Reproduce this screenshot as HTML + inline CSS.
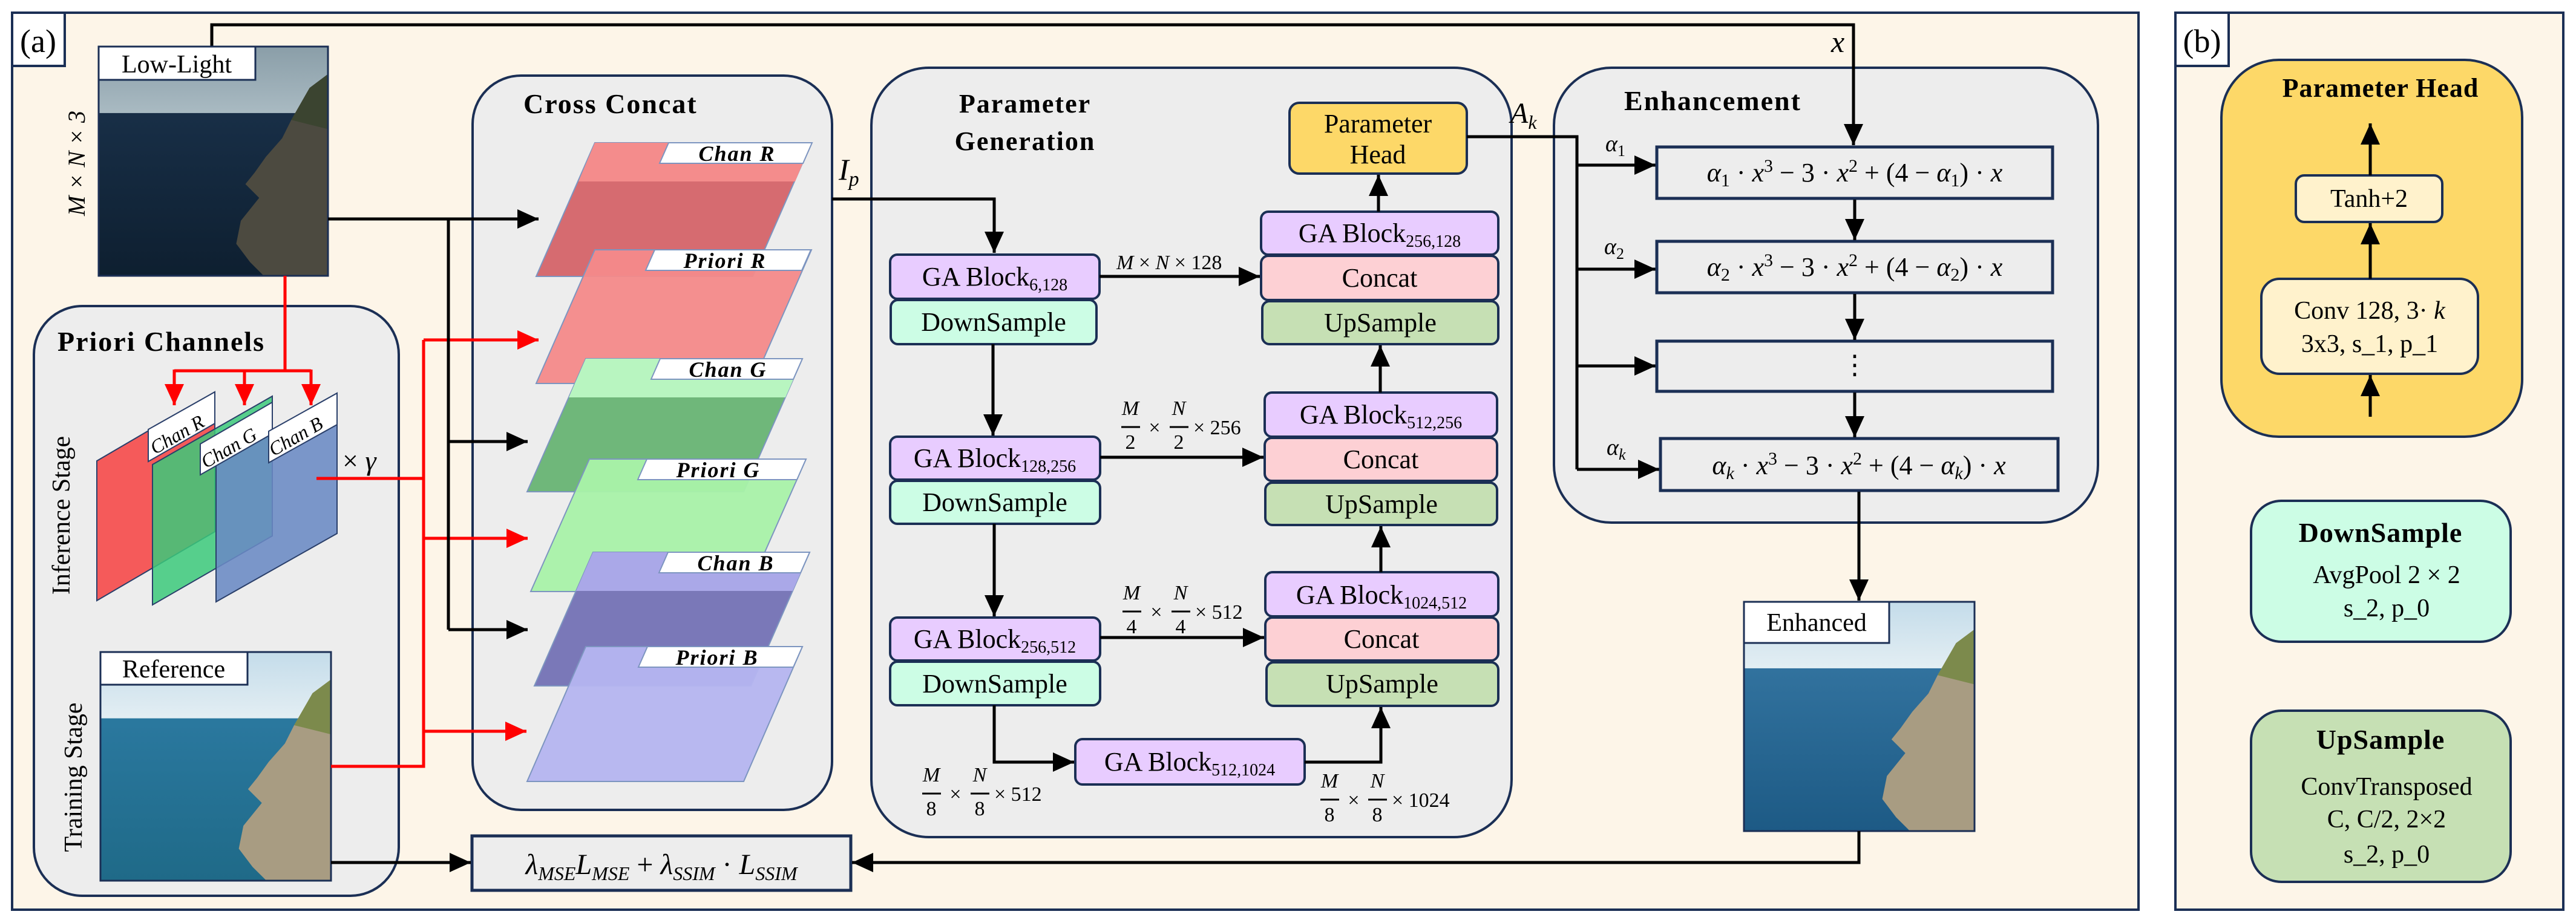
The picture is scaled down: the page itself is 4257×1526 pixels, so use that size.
<!DOCTYPE html>
<html><head><meta charset="utf-8"><style>
html,body{margin:0;padding:0;background:#fff;}
svg{display:block;}
svg text{font-family:"Liberation Serif","DejaVu Serif",serif;}
</style></head><body>
<svg width="4257" height="1526" viewBox="0 0 4257 1526" xmlns="http://www.w3.org/2000/svg">
<defs>
<marker id="ab" markerWidth="8" markerHeight="8" refX="7" refY="4" orient="auto" markerUnits="strokeWidth"><path d="M0,0.8 L7,4 L0,7.2 Z" fill="#000"/></marker>
<marker id="ar" markerWidth="8" markerHeight="8" refX="7" refY="4" orient="auto" markerUnits="strokeWidth"><path d="M0,0.8 L7,4 L0,7.2 Z" fill="#f00"/></marker>
<linearGradient id="llsky" x1="0" y1="0" x2="0" y2="1"><stop offset="0" stop-color="#8a9ea8"/><stop offset="1" stop-color="#a9bac2"/></linearGradient>
<linearGradient id="llsea" x1="0" y1="0" x2="0" y2="1"><stop offset="0" stop-color="#1c3550"/><stop offset="1" stop-color="#0e1f30"/></linearGradient>
<linearGradient id="rfsky" x1="0" y1="0" x2="0" y2="1"><stop offset="0" stop-color="#c4dcea"/><stop offset="1" stop-color="#e3eef3"/></linearGradient>
<linearGradient id="rfsea" x1="0" y1="0" x2="0" y2="1"><stop offset="0" stop-color="#2f7ea8"/><stop offset="1" stop-color="#1f6a88"/></linearGradient>
<linearGradient id="ensea" x1="0" y1="0" x2="0" y2="1"><stop offset="0" stop-color="#3a7ca8"/><stop offset="1" stop-color="#1d5a85"/></linearGradient>
</defs>

<rect x="20" y="21" width="3514" height="1483" fill="#fdf5e8" stroke="#1b2f55" stroke-width="4"/>
<rect x="20" y="21" width="87" height="88" fill="#fff" stroke="#1b2f55" stroke-width="4"/>
<text x="63" y="86" font-size="54" text-anchor="middle">(a)</text>
<rect x="3595" y="21" width="641" height="1483" fill="#fdf5e8" stroke="#1b2f55" stroke-width="4"/>
<rect x="3595" y="21" width="88" height="88" fill="#fff" stroke="#1b2f55" stroke-width="4"/>
<text x="3639" y="86" font-size="54" text-anchor="middle">(b)</text>

<rect x="56" y="506" width="603" height="975" rx="80" fill="#ededed" stroke="#1b2f55" stroke-width="4"/>
<text x="95" y="580" font-size="46" font-weight="bold" letter-spacing="2">Priori Channels</text>
<rect x="781" y="125" width="594" height="1214" rx="80" fill="#ededed" stroke="#1b2f55" stroke-width="4"/>
<text x="865" y="187" font-size="46" font-weight="bold" letter-spacing="2">Cross Concat</text>
<rect x="1440" y="112" width="1058" height="1272" rx="95" fill="#ededed" stroke="#1b2f55" stroke-width="4"/>
<text x="1694" y="186" font-size="44" font-weight="bold" letter-spacing="2" text-anchor="middle">Parameter</text>
<text x="1694" y="248" font-size="44" font-weight="bold" letter-spacing="2" text-anchor="middle">Generation</text>
<rect x="2568" y="112" width="899" height="752" rx="95" fill="#ededed" stroke="#1b2f55" stroke-width="4"/>
<text x="2684" y="182" font-size="46" font-weight="bold" letter-spacing="2">Enhancement</text>

<path d="M350,79 V41 H3063 V240" fill="none" stroke="#000" stroke-width="5" marker-end="url(#ab)"/>
<text x="3026" y="86" font-size="50" font-style="italic">x</text>

<g transform="translate(163,77) scale(3.79,3.79)">
<rect width="100" height="100" fill="url(#llsea)"/>
<rect width="100" height="29" fill="url(#llsky)"/>
<polygon points="100,12 92,18 84,32 80,40 73,48 68,55 64,60 70,66 62,76 60,86 66,94 72,100 100,100" fill="#4c4a40"/>
<polygon points="100,12 92,18 84,32 100,36" fill="#3b4430"/>
</g>
<rect x="163" y="77" width="379" height="379" fill="none" stroke="#1b2f55" stroke-width="3"/>
<rect x="163" y="77" width="259" height="55" fill="#fff" stroke="#1b2f55" stroke-width="3"/>
<text x="292" y="120" font-size="42" text-anchor="middle">Low-Light</text>
<text transform="translate(140,270) rotate(-90)" font-size="40" font-style="italic" text-anchor="middle">M × N × 3</text>

<path d="M471,456 V613" fill="none" stroke="#f00" stroke-width="5"/>
<path d="M288,613 H514" fill="none" stroke="#f00" stroke-width="5"/>
<path d="M288,611 V670" stroke="#f00" stroke-width="5" marker-end="url(#ar)"/>
<path d="M404,611 V670" stroke="#f00" stroke-width="5" marker-end="url(#ar)"/>
<path d="M514,611 V670" stroke="#f00" stroke-width="5" marker-end="url(#ar)"/>

<polygon points="160,762 355,648 355,879 160,993" fill="#f55a5a" stroke="#2a3f6a" stroke-width="2"/>
<polygon points="252,768 450,655 450,886 252,1000" fill="#3bc97a" fill-opacity="0.85" stroke="#2a3f6a" stroke-width="2"/>
<polygon points="357,763 557,650 557,882 357,995" fill="#6a8ac4" fill-opacity="0.88" stroke="#2a3f6a" stroke-width="2"/>
<g font-style="italic" font-size="32">
<polygon points="245,710 355,648 355,700 245,763" fill="#fff" stroke="#2a3f6a" stroke-width="2"/>
<text transform="translate(256,752) rotate(-30)">Chan R</text>
<polygon points="331,734 450,665 450,717 331,785" fill="#fff" stroke="#2a3f6a" stroke-width="2"/>
<text transform="translate(340,775) rotate(-30)">Chan G</text>
<polygon points="444,713 557,650 557,702 444,765" fill="#fff" stroke="#2a3f6a" stroke-width="2"/>
<text transform="translate(452,755) rotate(-30)">Chan B</text>
</g>
<text x="566" y="777" font-size="46">× <tspan font-style="italic">γ</tspan></text>
<text transform="translate(115,852) rotate(-90)" font-size="42" text-anchor="middle">Inference Stage</text>
<text transform="translate(135,1285) rotate(-90)" font-size="42" text-anchor="middle">Training Stage</text>

<g transform="translate(166,1078) scale(3.81,3.78)">
<rect width="100" height="100" fill="url(#rfsea)"/>
<rect width="100" height="29" fill="url(#rfsky)"/>
<polygon points="100,12 92,18 84,32 80,40 73,48 68,55 64,60 70,66 62,76 60,86 66,94 72,100 100,100" fill="#a89c82"/>
<polygon points="100,12 92,18 84,32 100,36" fill="#7c8a4c"/>
</g>
<rect x="166" y="1078" width="381" height="378" fill="none" stroke="#1b2f55" stroke-width="3"/>
<rect x="166" y="1078" width="243" height="54" fill="#fff" stroke="#1b2f55" stroke-width="3"/>
<text x="287" y="1120" font-size="42" text-anchor="middle">Reference</text>

<path d="M523,791 H700" fill="none" stroke="#f00" stroke-width="5"/>
<path d="M547,1267 H700 V562" fill="none" stroke="#f00" stroke-width="5"/>
<path d="M700,562 H890" stroke="#f00" stroke-width="5" marker-end="url(#ar)"/>
<path d="M700,890 H872" stroke="#f00" stroke-width="5" marker-end="url(#ar)"/>
<path d="M700,1209 H870" stroke="#f00" stroke-width="5" marker-end="url(#ar)"/>
<path d="M542,362 H890" stroke="#000" stroke-width="5" marker-end="url(#ab)"/>
<path d="M741,362 V1041" fill="none" stroke="#000" stroke-width="5"/>
<path d="M741,730 H872" stroke="#000" stroke-width="5" marker-end="url(#ab)"/>
<path d="M741,1041 H872" stroke="#000" stroke-width="5" marker-end="url(#ab)"/>

<g stroke="#7d95c0" stroke-width="2">
<polygon points="983,236 1341,236 1244,457 886,457" fill="#d66b70"/>
<polygon points="983,236 1341,236 1314,300 956,300" fill="#f48c8c" stroke="none"/>
<polygon points="983,413 1341,413 1244,634 886,634" fill="#f48a8a" fill-opacity="0.95"/>
<polygon points="968,593 1326,593 1229,813 871,813" fill="#6fb77a"/>
<polygon points="968,593 1326,593 1298,657 940,657" fill="#b8f5c0" stroke="none"/>
<polygon points="974,759 1332,759 1235,978 877,978" fill="#a9f2a9" fill-opacity="0.95"/>
<polygon points="980,913 1338,913 1241,1134 883,1134" fill="#7a78b8"/>
<polygon points="980,913 1338,913 1310,977 952,977" fill="#aaa8e8" stroke="none"/>
<polygon points="968,1069 1326,1069 1229,1292 871,1292" fill="#b5b5f0" fill-opacity="0.95"/>
</g>
<g fill="#fff" stroke="#7d95c0" stroke-width="2">
<polygon points="1105,236 1342,236 1327,270 1090,270"/>
<polygon points="1082,413 1340,413 1325,447 1067,447"/>
<polygon points="1091,593 1326,593 1311,627 1076,627"/>
<polygon points="1069,759 1332,759 1317,793 1054,793"/>
<polygon points="1104,913 1338,913 1323,947 1089,947"/>
<polygon points="1070,1069 1326,1069 1311,1103 1055,1103"/>
</g>
<g font-size="36" font-style="italic" font-weight="bold" text-anchor="middle" letter-spacing="2">
<text x="1218" y="266">Chan R</text>
<text x="1198" y="443">Priori R</text>
<text x="1203" y="623">Chan G</text>
<text x="1187" y="789">Priori G</text>
<text x="1216" y="943">Chan B</text>
<text x="1185" y="1099">Priori B</text>
</g>

<text x="1386" y="297" font-size="50" font-style="italic">I<tspan font-size="34" dy="10">p</tspan></text>
<path d="M1375,329 H1643 V418" fill="none" stroke="#000" stroke-width="5" marker-end="url(#ab)"/>

<g stroke="#1b2f55" stroke-width="4">
<rect x="1471" y="421" width="346" height="73" rx="12" fill="#e8ccff"/>
<rect x="1472" y="496" width="340" height="73" rx="12" fill="#ccfde5"/>
<rect x="1471" y="722" width="347" height="71" rx="12" fill="#e8ccff"/>
<rect x="1471" y="795" width="347" height="71" rx="12" fill="#ccfde5"/>
<rect x="1471" y="1021" width="347" height="71" rx="12" fill="#e8ccff"/>
<rect x="1471" y="1094" width="347" height="72" rx="12" fill="#ccfde5"/>
<rect x="1777" y="1222" width="379" height="75" rx="12" fill="#e8ccff"/>
<rect x="2084" y="350" width="392" height="71" rx="12" fill="#e8ccff"/>
<rect x="2084" y="423" width="392" height="73" rx="12" fill="#fdd0d4"/>
<rect x="2086" y="498" width="390" height="71" rx="12" fill="#c6e0b4"/>
<rect x="2090" y="649" width="384" height="73" rx="12" fill="#e8ccff"/>
<rect x="2090" y="724" width="384" height="71" rx="12" fill="#fdd0d4"/>
<rect x="2091" y="798" width="383" height="70" rx="12" fill="#c6e0b4"/>
<rect x="2091" y="946" width="385" height="73" rx="12" fill="#e8ccff"/>
<rect x="2091" y="1021" width="385" height="71" rx="12" fill="#fdd0d4"/>
<rect x="2093" y="1095" width="383" height="72" rx="12" fill="#c6e0b4"/>
<rect x="2131" y="170" width="293" height="117" rx="16" fill="#fdd868"/>
</g>
<g font-size="44" text-anchor="middle">
<text x="1644" y="472">GA Block<tspan font-size="28" dy="8">6,128</tspan></text>
<text x="1642" y="547">DownSample</text>
<text x="1644" y="772">GA Block<tspan font-size="28" dy="8">128,256</tspan></text>
<text x="1644" y="845">DownSample</text>
<text x="1644" y="1071">GA Block<tspan font-size="28" dy="8">256,512</tspan></text>
<text x="1644" y="1145">DownSample</text>
<text x="1966" y="1274">GA Block<tspan font-size="28" dy="8">512,1024</tspan></text>
<text x="2280" y="400">GA Block<tspan font-size="28" dy="8">256,128</tspan></text>
<text x="2280" y="474">Concat</text>
<text x="2281" y="548">UpSample</text>
<text x="2282" y="700">GA Block<tspan font-size="28" dy="8">512,256</tspan></text>
<text x="2282" y="774">Concat</text>
<text x="2283" y="848">UpSample</text>
<text x="2283" y="998">GA Block<tspan font-size="28" dy="8">1024,512</tspan></text>
<text x="2283" y="1071">Concat</text>
<text x="2284" y="1145">UpSample</text>
<text x="2277" y="219">Parameter</text>
<text x="2277" y="270">Head</text>
</g>
<g stroke="#000" stroke-width="5" fill="none">
<path d="M1817,457 H2082" marker-end="url(#ab)"/>
<path d="M1818,756 H2088" marker-end="url(#ab)"/>
<path d="M1818,1054 H2089" marker-end="url(#ab)"/>
<path d="M1641,569 V720" marker-end="url(#ab)"/>
<path d="M1643,866 V1019" marker-end="url(#ab)"/>
<path d="M1643,1166 V1260 H1775" marker-end="url(#ab)"/>
<path d="M2156,1260 H2282 V1169" marker-end="url(#ab)"/>
<path d="M2282,946 V870" marker-end="url(#ab)"/>
<path d="M2281,649 V571" marker-end="url(#ab)"/>
<path d="M2278,350 V289" marker-end="url(#ab)"/>
</g>
<g font-size="34">
<text x="1845" y="445"><tspan font-style="italic">M</tspan> × <tspan font-style="italic">N</tspan> × 128</text>
<g text-anchor="middle">
<text x="1868" y="686" font-style="italic">M</text><text x="1868" y="742">2</text>
<text x="1948" y="686" font-style="italic">N</text><text x="1948" y="742">2</text>
<text x="1870" y="991" font-style="italic">M</text><text x="1870" y="1047">4</text>
<text x="1951" y="991" font-style="italic">N</text><text x="1951" y="1047">4</text>
<text x="1539" y="1292" font-style="italic">M</text><text x="1539" y="1348">8</text>
<text x="1619" y="1292" font-style="italic">N</text><text x="1619" y="1348">8</text>
<text x="2197" y="1302" font-style="italic">M</text><text x="2197" y="1358">8</text>
<text x="2276" y="1302" font-style="italic">N</text><text x="2276" y="1358">8</text>
<text x="1908" y="718">×</text>
<text x="1911" y="1023">×</text>
<text x="1579" y="1324">×</text>
<text x="2237" y="1334">×</text>
</g>
<g stroke="#000" stroke-width="3">
<line x1="1853" y1="706" x2="1884" y2="706"/><line x1="1933" y1="706" x2="1964" y2="706"/>
<line x1="1855" y1="1011" x2="1886" y2="1011"/><line x1="1936" y1="1011" x2="1967" y2="1011"/>
<line x1="1524" y1="1312" x2="1555" y2="1312"/><line x1="1604" y1="1312" x2="1635" y2="1312"/>
<line x1="2182" y1="1322" x2="2213" y2="1322"/><line x1="2261" y1="1322" x2="2292" y2="1322"/>
</g>
<text x="1972" y="718">× 256</text>
<text x="1975" y="1023">× 512</text>
<text x="1643" y="1324">× 512</text>
<text x="2300" y="1334">× 1024</text>
</g>

<text x="2496" y="203" font-size="48" font-style="italic">A<tspan font-size="32" dy="10">k</tspan></text>
<path d="M2424,226 H2606 V776" fill="none" stroke="#000" stroke-width="5"/>
<g stroke="#000" stroke-width="5">
<path d="M2606,273 H2736" marker-end="url(#ab)"/>
<path d="M2606,445 H2736" marker-end="url(#ab)"/>
<path d="M2606,605 H2736" marker-end="url(#ab)"/>
<path d="M2606,776 H2742" marker-end="url(#ab)"/>
</g>
<g font-size="38" font-style="italic">
<text x="2653" y="250">α<tspan font-size="26" dy="8" font-style="normal">1</tspan></text>
<text x="2651" y="420">α<tspan font-size="26" dy="8" font-style="normal">2</tspan></text>
<text x="2655" y="752">α<tspan font-size="26" dy="8">k</tspan></text>
</g>
<g fill="#ededed" stroke="#1b2f55" stroke-width="5">
<rect x="2738" y="243" width="654" height="85"/>
<rect x="2738" y="399" width="654" height="85"/>
<rect x="2738" y="564" width="654" height="83"/>
<rect x="2744" y="725" width="657" height="86"/>
</g>
<g font-size="44" text-anchor="middle">
<text x="3065" y="300"><tspan font-style="italic">α</tspan><tspan font-size="30" dy="8">1</tspan><tspan dy="-8"> · </tspan><tspan font-style="italic">x</tspan><tspan font-size="30" dy="-16">3</tspan><tspan dy="16"> − 3 · </tspan><tspan font-style="italic">x</tspan><tspan font-size="30" dy="-16">2</tspan><tspan dy="16"> + (4 − </tspan><tspan font-style="italic">α</tspan><tspan font-size="30" dy="8">1</tspan><tspan dy="-8">) · </tspan><tspan font-style="italic">x</tspan></text>
<text x="3065" y="456"><tspan font-style="italic">α</tspan><tspan font-size="30" dy="8">2</tspan><tspan dy="-8"> · </tspan><tspan font-style="italic">x</tspan><tspan font-size="30" dy="-16">3</tspan><tspan dy="16"> − 3 · </tspan><tspan font-style="italic">x</tspan><tspan font-size="30" dy="-16">2</tspan><tspan dy="16"> + (4 − </tspan><tspan font-style="italic">α</tspan><tspan font-size="30" dy="8">2</tspan><tspan dy="-8">) · </tspan><tspan font-style="italic">x</tspan></text>
<text x="3065" y="618">⋮</text>
<text x="3072" y="784"><tspan font-style="italic">α</tspan><tspan font-size="30" dy="8" font-style="italic">k</tspan><tspan dy="-8"> · </tspan><tspan font-style="italic">x</tspan><tspan font-size="30" dy="-16">3</tspan><tspan dy="16"> − 3 · </tspan><tspan font-style="italic">x</tspan><tspan font-size="30" dy="-16">2</tspan><tspan dy="16"> + (4 − </tspan><tspan font-style="italic">α</tspan><tspan font-size="30" dy="8" font-style="italic">k</tspan><tspan dy="-8">) · </tspan><tspan font-style="italic">x</tspan></text>
</g>
<g stroke="#000" stroke-width="5">
<path d="M3065,330 V397" marker-end="url(#ab)"/>
<path d="M3065,486 V562" marker-end="url(#ab)"/>
<path d="M3065,649 V723" marker-end="url(#ab)"/>
<path d="M3072,813 V993" marker-end="url(#ab)"/>
</g>

<g transform="translate(2882,995) scale(3.81,3.79)">
<rect width="100" height="100" fill="url(#ensea)"/>
<rect width="100" height="29" fill="url(#rfsky)"/>
<polygon points="100,12 92,18 84,32 80,40 73,48 68,55 64,60 70,66 62,76 60,86 66,94 72,100 100,100" fill="#a89c82"/>
<polygon points="100,12 92,18 84,32 100,36" fill="#7c8a4c"/>
</g>
<rect x="2882" y="995" width="381" height="379" fill="none" stroke="#1b2f55" stroke-width="3"/>
<rect x="2882" y="995" width="240" height="68" fill="#fff" stroke="#1b2f55" stroke-width="3"/>
<text x="3002" y="1043" font-size="42" text-anchor="middle">Enhanced</text>

<rect x="780" y="1382" width="626" height="90" fill="#ededed" stroke="#1b2f55" stroke-width="5"/>
<text x="1093" y="1445" font-size="48" text-anchor="middle" font-style="italic">λ<tspan font-size="32" dy="10">MSE</tspan><tspan dy="-10">L</tspan><tspan font-size="32" dy="10">MSE</tspan><tspan dy="-10" font-style="normal"> + </tspan>λ<tspan font-size="32" dy="10">SSIM</tspan><tspan dy="-10" font-style="normal"> · </tspan>L<tspan font-size="32" dy="10">SSIM</tspan></text>
<path d="M547,1426 H778" stroke="#000" stroke-width="5" marker-end="url(#ab)"/>
<path d="M3072,1374 V1426 H1408" fill="none" stroke="#000" stroke-width="5" marker-end="url(#ab)"/>

<rect x="3671" y="99" width="497" height="623" rx="95" fill="#fdd868" stroke="#1b2f55" stroke-width="4"/>
<text x="3934" y="160" font-size="44" font-weight="bold" text-anchor="middle" letter-spacing="1">Parameter Head</text>
<rect x="3794" y="290" width="242" height="77" rx="14" fill="#fff2cc" stroke="#1b2f55" stroke-width="4"/>
<text x="3915" y="342" font-size="42" text-anchor="middle">Tanh+2</text>
<rect x="3737" y="461" width="358" height="157" rx="30" fill="#fff2cc" stroke="#1b2f55" stroke-width="4"/>
<text x="3916" y="527" font-size="42" text-anchor="middle">Conv 128, 3· <tspan font-style="italic">k</tspan></text>
<text x="3916" y="582" font-size="42" text-anchor="middle">3x3, s_1, p_1</text>
<g stroke="#000" stroke-width="5">
<path d="M3917,689 V620" marker-end="url(#ab)"/>
<path d="M3917,461 V369" marker-end="url(#ab)"/>
<path d="M3917,290 V204" marker-end="url(#ab)"/>
</g>
<rect x="3720" y="828" width="429" height="233" rx="50" fill="#ccfde5" stroke="#1b2f55" stroke-width="4"/>
<text x="3934" y="896" font-size="46" font-weight="bold" text-anchor="middle" letter-spacing="1">DownSample</text>
<text x="3944" y="964" font-size="42" text-anchor="middle">AvgPool  2 × 2</text>
<text x="3944" y="1019" font-size="42" text-anchor="middle">s_2, p_0</text>
<rect x="3720" y="1175" width="429" height="283" rx="50" fill="#c6e0b4" stroke="#1b2f55" stroke-width="4"/>
<text x="3934" y="1238" font-size="46" font-weight="bold" text-anchor="middle" letter-spacing="1">UpSample</text>
<text x="3944" y="1314" font-size="42" text-anchor="middle">ConvTransposed</text>
<text x="3944" y="1368" font-size="42" text-anchor="middle">C, C/2, 2×2</text>
<text x="3944" y="1426" font-size="42" text-anchor="middle">s_2,  p_0</text>
</svg>
</body></html>
